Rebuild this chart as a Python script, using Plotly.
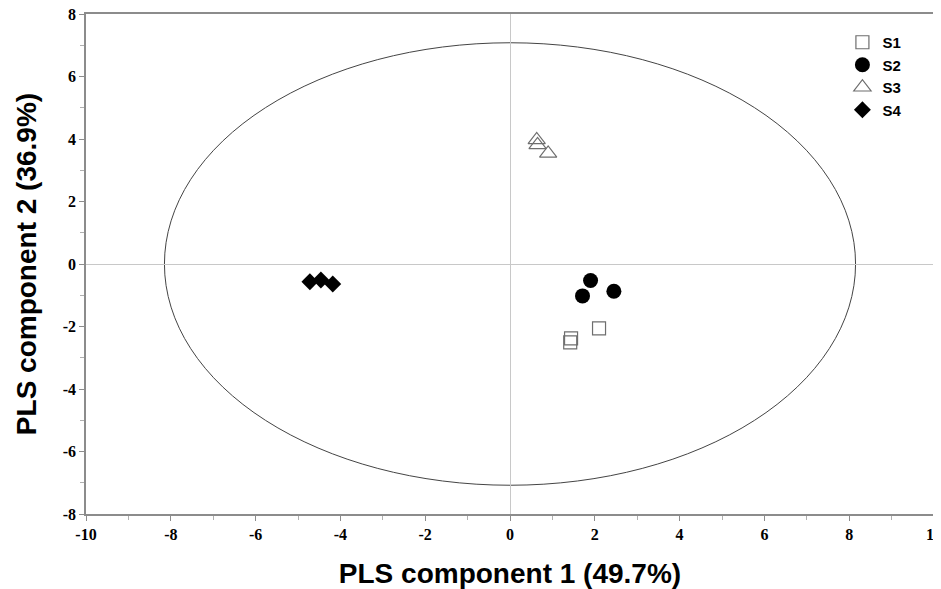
import plotly.graph_objects as go

# ---- data ----
series_names = ["S1", "S2", "S3", "S4"]
s1_x = [2.10, 1.44, 1.42]
s1_y = [-2.06, -2.38, -2.51]
s2_x = [1.90, 1.71, 2.45]
s2_y = [-0.53, -1.02, -0.87]
s3_x = [0.63, 0.65, 0.90]
s3_y = [3.97, 3.81, 3.54]
s4_x = [-4.72, -4.46, -4.18]
s4_y = [-0.57, -0.51, -0.64]

ellipse_a = 8.15   # semi-axis along component 1
ellipse_b = 7.08   # semi-axis along component 2

x_ticks = [-10, -8, -6, -4, -2, 0, 2, 4, 6, 8, 10]
y_ticks = [-8, -6, -4, -2, 0, 2, 4, 6, 8]

x_title = "PLS component 1 (49.7%)"
y_title = "PLS component 2 (36.9%)"

# ---- styles ----
styles = {
    "S1": dict(symbol="square-open", size=13, color="#6e6e6e", line=dict(width=1.2, color="#6e6e6e")),
    "S2": dict(symbol="circle", size=15, color="black", line=dict(width=0)),
    "S3": dict(symbol="triangle-up-open", size=15, color="#6e6e6e", line=dict(width=1.2, color="#6e6e6e")),
    "S4": dict(symbol="diamond", size=13, color="black", line=dict(width=0)),
}
data = {"S1": (s1_x, s1_y), "S2": (s2_x, s2_y), "S3": (s3_x, s3_y), "S4": (s4_x, s4_y)}

fig = go.Figure()
for name in series_names:
    xs, ys = data[name]
    fig.add_trace(go.Scatter(x=xs, y=ys, mode="markers", name=name,
                             marker=styles[name]))

# confidence ellipse
fig.add_shape(type="circle", xref="x", yref="y",
              x0=-ellipse_a, x1=ellipse_a, y0=-ellipse_b, y1=ellipse_b,
              line=dict(color="#444444", width=1), layer="below")

tick_font = dict(family="Liberation Serif", size=16, color="black", weight="bold")
title_font = dict(family="Liberation Sans", size=28, color="black", weight="bold")
axis_common = dict(
    showgrid=False, zeroline=True, zerolinecolor="#c8c8c8", zerolinewidth=1,
    showline=True, linecolor="#8c8c8c", linewidth=1.5, mirror=True,
    ticks="outside", ticklen=5, tickcolor="#8c8c8c", tickwidth=1,
    automargin=False, ticklabeloverflow="allow",
    minor=dict(ticks="outside", ticklen=4, dtick=1, tickcolor="#b0b0b0", showgrid=False),
)

fig.update_xaxes(range=[-10, 10], tickvals=x_ticks, ticktext=[str(v) for v in x_ticks],
                 tickfont=tick_font,
                 title=dict(text=x_title, font=title_font, standoff=22), **axis_common)
fig.update_yaxes(range=[-8, 8], tickvals=y_ticks, ticktext=[str(v) for v in y_ticks],
                 tickfont=tick_font,
                 title=dict(text=y_title, font=title_font, standoff=18), **axis_common)

# the page body has an 8px default margin, so the figure is sized to fit the window
fig.update_layout(
    width=933, height=581,
    margin=dict(l=78, r=7, t=6, b=75),
    plot_bgcolor="white", paper_bgcolor="white",
    showlegend=True,
    legend=dict(x=0.892, y=0.976, xanchor="left", yanchor="top",
                font=dict(family="Liberation Sans", size=15, color="black", weight="bold"),
                bgcolor="rgba(0,0,0,0)", tracegroupgap=0, itemwidth=30),
)

fig.write_html("out.html")
